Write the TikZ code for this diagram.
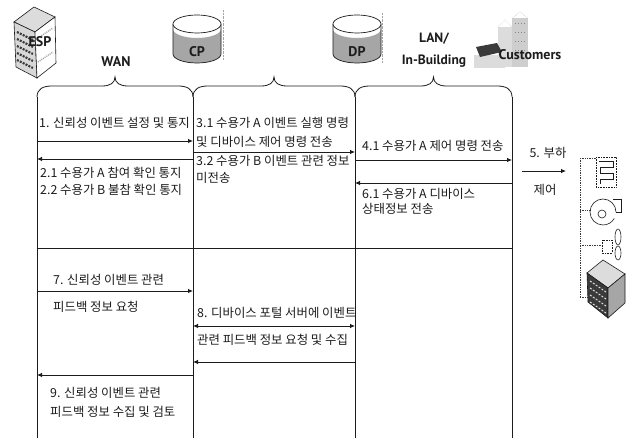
\documentclass[tikz,border=0pt]{standalone}
\usepackage{fontspec}
\setmainfont{Noto Sans CJK KR}
\newfontfamily\tagfont{PT Sans}
\usetikzlibrary{arrows.meta,calc}
\definecolor{SeqInk}{HTML}{1C1C1C}
\definecolor{IconGray}{HTML}{A6A6A6}
\definecolor{IconLight}{HTML}{DCDCDC}
\definecolor{IconDark}{HTML}{3A3A3A}
\tikzset{
  life/.style={SeqInk,line width=0.8pt},
  msg/.style={SeqInk,line width=0.8pt},
  say/.style={anchor=west,inner sep=0pt,SeqInk,font=\fontsize{12.4}{14}\selectfont},
  tag/.style={inner sep=0pt,SeqInk,font=\tagfont\bfseries\fontsize{14}{16}\selectfont},
  bus/.style={IconDark,densely dotted,line width=0.7pt},
  icon/.style={SeqInk,line width=0.6pt},
}

\begin{document}
\begin{tikzpicture}[>={Latex[length=5pt,width=4.5pt]},x=1pt,y=-1pt]
  \useasboundingbox (0,0) rectangle (630,438);
  \coordinate (esp) at (37,97);
  \coordinate (cp) at (193,97);
  \coordinate (dp) at (355,97);
  \coordinate (cu) at (512,97);
  \coordinate (bot) at (0,438);
  \foreach \p in {esp,cp,dp,cu} \draw[life] (\p) -- (\p |- bot);
  \foreach \a/\b/\t in {esp/cp/wantip,cp/dp/cptip,dp/cu/lantip} {
    \coordinate (\t) at ($(\a)!0.5!(\b)+(0,-20)$);
    \draw[life] (\a) .. controls +(0,-8) and +(-9,0) .. ($(\a)+(15,-11)$)
      -- ($(\t)+(-13,9)$) .. controls +(8,0) and +(0,6) .. (\t)
      .. controls +(0,6) and +(-8,0) .. ($(\t)+(13,9)$)
      -- ($(\b)+(-15,-11)$) .. controls +(9,0) and +(0,-8) .. (\b);
  }
  \node[tag] (wan) at (116,62) {WAN};
  \node[tag,align=center,font=\tagfont\bfseries\fontsize{13.5}{22}\selectfont] (lan) at (434,50) {LAN/\\In-Building};

  \filldraw[icon,fill=IconLight] (14,22) -- (34,7) -- (55,17) -- (35,32) -- cycle;
  \filldraw[icon,fill=IconGray!45] (14,22) -- (35,32) -- (37,78) -- (16,67) -- cycle;
  \filldraw[icon,fill=white] (35,32) -- (55,17) -- (56,63) -- (37,78) -- cycle;
  \foreach \i in {0,...,4}
    \draw[IconDark,line width=2.2pt,dash pattern=on 2pt off 1.2pt] (17,32+7*\i) -- (33,40+7*\i);
  \draw[IconGray,line width=1.5pt,dash pattern=on 1pt off 1pt] (38,38) -- (53,28) (38,62) -- (53,52);
  \node[tag] (esptag) at (40,42) {ESP};

  \foreach \c/\n in {197/CP,357/DP} {
    \fill[white] (\c-24,24) -- (\c-24,54) arc[start angle=180,end angle=360,x radius=24pt,y radius=9pt] -- (\c+24,24) -- cycle;
    \fill[IconGray] (\c-24,29) arc[start angle=180,end angle=360,x radius=24pt,y radius=9pt] -- (\c+24,54) arc[start angle=0,end angle=-180,x radius=24pt,y radius=9pt] -- cycle;
    \draw[icon,line width=0.7pt] (\c-24,24) -- (\c-24,54) arc[start angle=180,end angle=360,x radius=24pt,y radius=9pt] -- (\c+24,24);
    \filldraw[icon,line width=0.7pt,fill=white] (\c,24) ellipse [x radius=24pt,y radius=9pt];
    \node[tag] (tag\n) at (\c,52) {\n};
  }
  \draw[IconGray,densely dotted] (223,10) -- (223,60) (382,13) -- (382,63);

  \fill[IconLight] (498,27) rectangle (512,67);
  \fill[IconGray!55] (512,18) rectangle (528,67);
  \draw[IconGray,densely dotted] (498,27) -- (505,20) -- (512,27) (512,18) -- (520,12) -- (528,18);
  \foreach \i in {0,...,3}
    \draw[IconDark!60,line width=1pt,dash pattern=on 1pt off 2pt] (515,24+9*\i) -- (527,24+9*\i);
  \fill[IconLight] (474,55) rectangle (505,68);
  \fill[IconDark] (476,47) -- (497,43) -- (502,52) -- (480,57) -- cycle;
  \node[tag] (custtag) at (530,55) {Customers};

  \coordinate (m1) at (0,141);
  \coordinate (m2) at (0,159);
  \coordinate (m3) at (0,152);
  \coordinate (m4) at (0,160);
  \coordinate (m6) at (0,183);
  \coordinate (sep) at (0,248);
  \coordinate (m7) at (0,291);
  \coordinate (m8) at (0,326);
  \coordinate (m8b) at (0,362);
  \coordinate (m9) at (0,375);
  \draw[msg,->] (esp |- m1) -- (cp |- m1);
  \draw[msg,->] (cp |- m2) -- (esp |- m2);
  \draw[msg,->] (cp |- m3) -- (dp |- m3);
  \draw[msg,->] (dp |- m4) -- (cu |- m4);
  \draw[msg,->] (cu |- m6) -- (dp |- m6);
  \draw[life] (esp |- sep) -- (cu |- sep);
  \draw[msg,->] (esp |- m7) -- (cp |- m7);
  \draw[msg,<->] (cp |- m8) -- (dp |- m8);
  \draw[msg,->] (dp |- m8b) -- (cp |- m8b);
  \draw[msg,->] (cp |- m9) -- (esp |- m9);

  \node[say] (t1) at (39,123) {1. 신뢰성 이벤트 설정 및 통지};
  \node[say] (t21) at (40,173) {2.1 수용가 A 참여 확인 통지};
  \node[say] (t22) at (40,190) {2.2 수용가 B 불참 확인 통지};
  \node[say] (t31) at (196,123) {3.1 수용가 A 이벤트 실행 명령};
  \node[say] (t31b) at (196,142) {및 디바이스 제어 명령 전송};
  \node[say] (t32) at (196,161) {3.2 수용가 B 이벤트 관련 정보};
  \node[say] (t32b) at (196,178) {미전송};
  \node[say] (t41) at (362,146) {4.1 수용가 A 제어 명령 전송};
  \node[say] (t61) at (362,194) {6.1 수용가 A 디바이스};
  \node[say] (t61b) at (362,209) {상태정보 전송};
  \node[say] (t7) at (53,280) {7. 신뢰성 이벤트 관련};
  \node[say] (t7b) at (53,307) {피드백 정보 요청};
  \node[say] (t8) at (197,313) {8. 디바이스 포털 서버에 이벤트};
  \node[say] (t8b) at (197,340) {관련 피드백 정보 요청 및 수집};
  \node[say] (t9) at (50,393) {9. 신뢰성 이벤트 관련};
  \node[say] (t9b) at (50,412) {피드백 정보 수집 및 검토};

  \coordinate (load) at (522,171);
  \coordinate (loadend) at (566,171);
  \draw[msg,->] (load) -- (loadend);
  \node[say,anchor=center] (t5) at (548,153) {5. 부하};
  \node[say,anchor=center] (t5b) at (545,190) {제어};

  \coordinate (bustop) at (580,158);
  \coordinate (busbot) at (580,297);
  \draw[bus] (bustop) -- (busbot);
  \draw[bus] (bustop) -- (596,158) (580,210) -- (591,210) (580,245) -- (602,245) (busbot) -- (588,297);
  \draw[icon,densely dotted] (596,157) rectangle (616,187);
  \draw[icon] (599,161) -- (613,161) -- (613,167) -- (600,167) -- (600,173) -- (613,173) -- (613,179) -- (600,179) -- (600,184);
  \draw[icon] (613,199) -- (621,199) -- (621,212) -- (616,212);
  \draw[icon] (616,212) arc[start angle=0,end angle=330,radius=13pt];
  \draw[icon] (602,214) circle (4pt);
  \draw[icon,densely dotted] (602,240) rectangle (612,253);
  \draw[icon] (618,237) ellipse [x radius=3pt,y radius=8pt];
  \draw[icon] (618,253) ellipse [x radius=3pt,y radius=7pt];
  \filldraw[icon,fill=IconLight] (587,273) -- (603,260) -- (625,274) -- (608,288) -- cycle;
  \filldraw[icon,fill=IconDark] (587,273) -- (608,288) -- (608,318) -- (588,302) -- cycle;
  \filldraw[icon,fill=IconGray] (608,288) -- (625,274) -- (625,303) -- (608,318) -- cycle;
  \foreach \i in {0,...,3}
    \draw[IconLight,line width=1pt,dash pattern=on 2pt off 1.5pt] (590,281+7*\i) -- (606,292+7*\i);
\end{tikzpicture}
\end{document}
